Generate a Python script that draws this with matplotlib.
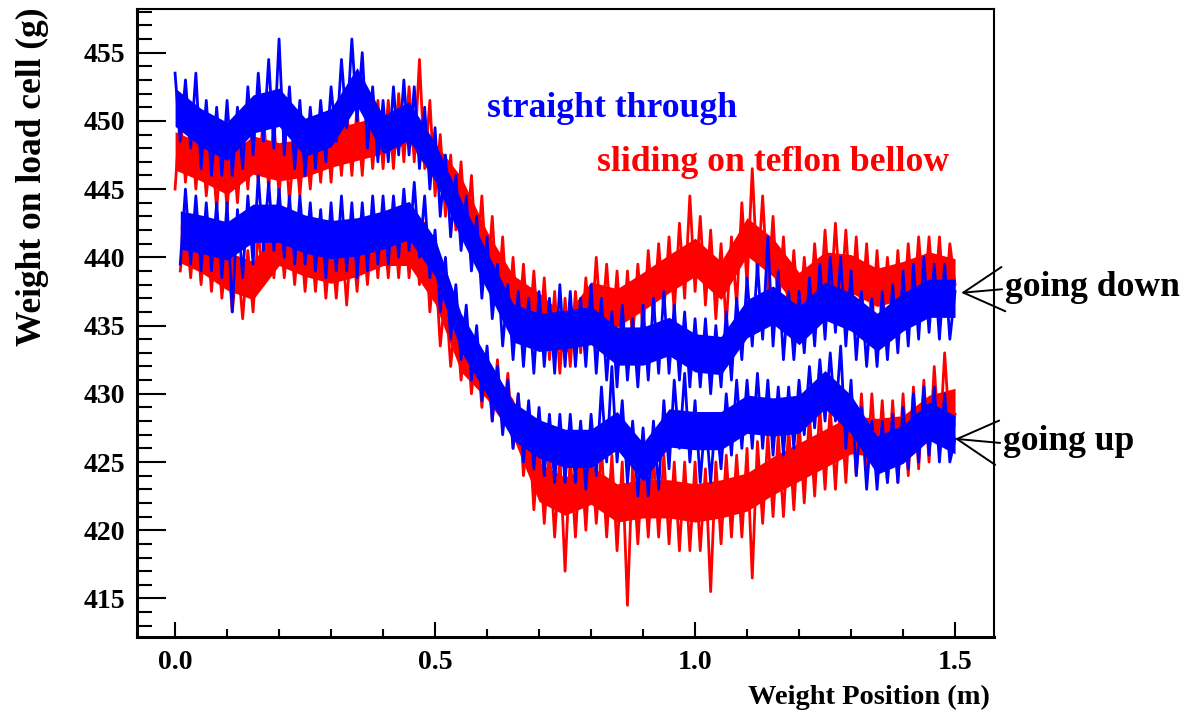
import numpy as np
import matplotlib
matplotlib.use("Agg")
import matplotlib.pyplot as plt
from matplotlib.ticker import MultipleLocator, FixedLocator

# ---------------- data ----------------
# positions (m) of the single readings: 0.00 .. 1.50 step 0.01
x_full = np.round(np.arange(151) * 0.01, 2)
x_late = x_full[1:]          # series that start at 0.01
# positions (m) of the dense-core readings: 0.00 .. 1.50 step 0.05
x_core = np.round(np.arange(31) * 0.05, 2)
x_core_late = np.concatenate([[0.01], x_core[1:]])

# blue, straight through, going down (0.00 .. 1.50)
blue_down = [453.5, 448.5, 453, 448, 453.5, 446.5, 451.5, 446, 451, 446,
             451.5, 446, 451, 446.5, 452.5, 447.5, 453.5, 448.5, 454.5, 448,
             456, 447.5, 452.5, 446.5, 451.5, 446, 451, 446.5, 451.5, 447,
             452.5, 448.5, 454.5, 449.5, 456, 450, 455, 448, 452.5, 447,
             451.5, 447, 452.5, 447.5, 453, 447.5, 452.5, 446.5, 451, 445,
             449.5, 443, 447.5, 441.5, 446, 440.5, 444.5, 439, 443, 437,
             441.5, 435.5, 439.5, 433.5, 438, 432.5, 437.5, 432, 437, 431.5,
             437.5, 432, 437, 431.5, 438, 432, 437.5, 432, 437, 432,
             438, 431.5, 437, 431, 436, 430.5, 436.5, 431, 435.5, 430.5,
             436.5, 431, 437, 431.5, 437.5, 431.5, 436.5, 431, 436, 430.5,
             435.5, 430.5, 435.5, 430, 435, 430.5, 436, 431, 437, 432.5,
             438.5, 433.5, 439.5, 434, 441.5, 433.5, 439, 432.5, 437.5, 432.5,
             437.5, 433, 438.5, 433.5, 439.5, 434, 440, 434.5, 440, 433.5,
             439, 432.5, 437.5, 432, 437, 432, 437.5, 432.5, 438, 433,
             439, 433.5, 439.5, 434, 440, 434.5, 439.5, 434, 439.5, 434,
             437.5]
blue_down_core_hi = [452.4, 450.9, 449.9, 451.9, 452.4, 450.2, 450.9, 453.9,
                     450.4, 451.4, 448.4, 444.2, 440.4, 436.6, 435.9, 436.1,
                     436.4, 434.9, 434.9, 435.6, 434.4, 434.2, 436.9, 437.9,
                     436.4, 438.2, 437.4, 435.9, 437.4, 438.4, 438.4]
blue_down_core_lo = [449.6, 448.1, 447.1, 449.1, 449.6, 447.4, 448.1, 451.1,
                     447.6, 448.6, 445.6, 441.4, 437.6, 433.8, 433.1, 433.3,
                     433.6, 432.1, 432.1, 432.8, 431.6, 431.4, 434.1, 435.1,
                     433.6, 435.4, 434.6, 433.1, 434.6, 435.6, 435.6]

# blue, straight through, going up (0.01 .. 1.50)
blue_up = [439.5, 445, 439.5, 444.5, 439, 444, 439, 444, 438.5, 444,
           436, 443.5, 438.5, 444.5, 439.5, 446, 440.5, 445.5, 440.5, 445,
           440, 444.5, 439.5, 444.5, 439.5, 444, 439, 443.5, 438.5, 444,
           439, 444.5, 439, 444, 438.5, 444, 439, 444.5, 439.5, 444.5,
           439.5, 444.5, 440, 445, 440.5, 445.5, 440, 444.5, 438.5, 442,
           436, 440, 434, 438, 432.5, 436.5, 431, 435, 429.5, 433.5,
           428, 432, 427, 431, 426, 430, 425, 429.5, 424.5, 429,
           424, 428.5, 423.5, 428.5, 423.5, 428.5, 423.5, 428, 423, 428.5,
           424, 430.5, 425, 432, 425, 429.5, 423.5, 428, 422.5, 427.5,
           422.5, 428, 423, 429.5, 424.5, 431, 426, 431.5, 425, 429.5,
           423.5, 428.5, 423.5, 428.5, 424.5, 430, 425.5, 431, 426, 431,
           426, 431.5, 426, 431, 425.5, 430.5, 425.5, 430.5, 426, 431,
           427, 432, 427.5, 432.5, 428, 433, 428, 433.5, 426, 431,
           424, 429, 423, 428, 423, 428, 423.5, 428.5, 423.5, 429,
           424.5, 430, 425, 430.5, 425.5, 430.5, 425, 430, 425, 426.7]
blue_up_core_hi = [443.4, 443.1, 442.6, 443.9, 443.9, 443.1, 442.7, 442.9,
                   443.4, 444.1, 441.4, 435.9, 432.7, 429.4, 428.1, 427.4,
                   427.4, 428.7, 426.4, 428.9, 428.7, 428.7, 429.9, 429.7,
                   429.9, 431.7, 429.9, 426.9, 427.7, 429.4, 428.4]
blue_up_core_lo = [440.6, 440.3, 439.8, 441.1, 441.1, 440.3, 439.9, 440.1,
                   440.6, 441.3, 438.6, 433.1, 429.9, 426.6, 425.3, 424.6,
                   424.6, 425.9, 423.6, 426.1, 425.9, 425.9, 427.1, 426.9,
                   427.1, 428.9, 427.1, 424.1, 424.9, 426.6, 425.6]

# red, sliding on teflon bellow, going down (0.00 .. 1.50)
red_down = [445, 450.5, 445.5, 450, 445, 449.5, 444.5, 448.5, 443.5, 448.5,
            443.5, 448.5, 444, 449, 445, 450, 445.5, 450.5, 445, 450,
            444.5, 449.5, 444, 449, 444.5, 449.5, 445, 450, 445.5, 450.5,
            445.5, 450.5, 446, 451, 446, 451, 446, 451.5, 446.5, 451.5,
            446.5, 451.5, 446.5, 452, 447, 452.5, 447, 454.5, 446.5, 451.5,
            444.5, 449, 443, 447.5, 442, 447, 441, 446, 439.5, 444.5,
            438, 443, 436.5, 441.5, 435, 440, 434.5, 439.5, 434, 439,
            433.5, 438.5, 432.5, 437.5, 431.5, 437, 432, 437.5, 433, 438.5,
            434, 440, 434.5, 439.5, 434, 439, 433.5, 439, 434, 439.5,
            434.5, 440.5, 435.5, 441, 436, 441.5, 436, 442.5, 437, 444.5,
            437.5, 443, 436.5, 442, 435.5, 441, 435, 441.5, 436.5, 444,
            438, 446.5, 438.5, 444.5, 437.5, 443, 436, 441.5, 435.5, 440.5,
            435, 440, 435.5, 441, 436, 442, 436.5, 442.5, 436.5, 442,
            436, 441.5, 435.5, 441, 435, 440.5, 435, 440, 435, 440.5,
            435.5, 441, 436, 441.5, 436.5, 441.5, 436.5, 441.5, 436, 441,
            438]
red_down_core_hi = [449.2, 448.4, 447.4, 448.9, 448.4, 448.7, 449.4, 449.9,
                    450.4, 451.2, 448.4, 445.9, 441.9, 438.7, 437.4, 435.7,
                    438.2, 437.7, 438.9, 440.2, 441.4, 439.7, 442.9, 441.4,
                    438.9, 440.4, 440.2, 439.2, 439.7, 440.4, 439.9]
red_down_core_lo = [446.4, 445.6, 444.6, 446.1, 445.6, 445.9, 446.6, 447.1,
                    447.6, 448.4, 445.6, 443.1, 439.1, 435.9, 434.6, 432.9,
                    435.4, 434.9, 436.1, 437.4, 438.6, 436.9, 440.1, 438.6,
                    436.1, 437.6, 437.4, 436.4, 436.9, 437.6, 437.1]

# red, sliding on teflon bellow, going up (0.01 .. 1.50)
red_up = [439, 443, 438.5, 443, 438, 442.5, 437.5, 442, 437, 441,
          436, 440, 435.5, 440.5, 436, 442, 438, 443, 438.5, 443,
          438.5, 442.5, 438, 442.5, 437.5, 442, 437.5, 442, 437, 441.5,
          437, 442, 436.5, 442, 437.5, 442.5, 438, 443, 438.5, 443,
          438.5, 443.5, 438.5, 443.5, 438.5, 443, 438, 442.5, 436, 440,
          433.5, 437.5, 432, 436, 431, 435, 430, 434, 429, 433,
          428, 432.5, 427.5, 431.5, 426, 430, 424, 428, 421.5, 426.5,
          420.5, 426, 419.5, 425.5, 417, 425.5, 419.5, 426, 420, 426.5,
          420.5, 426, 419.5, 425.5, 418.5, 425, 414.5, 425, 419, 425.5,
          419.5, 425.5, 419.5, 425.5, 419, 425, 418.5, 425, 418.5, 425,
          418.5, 424.5, 415.5, 425, 419, 425.5, 419.5, 425.5, 419.5, 426,
          416.5, 426.5, 420.5, 427, 421, 427, 421, 427.5, 421.5, 428,
          422, 428.5, 422.5, 429, 423, 429, 423, 429.5, 423.5, 430,
          424, 430, 424, 430, 424, 429.5, 423.5, 429.5, 423.5, 430,
          424, 430.5, 424.5, 431, 425, 432, 426, 433, 427, 428.5]
red_up_core_hi = [442.4, 441.7, 440.4, 439.7, 442.2, 441.4, 440.9, 441.4,
                  442.2, 442.2, 439.4, 434.4, 432.4, 429.6, 424.9, 423.9,
                  424.7, 423.4, 423.7, 423.7, 423.4, 423.7, 424.2, 425.4,
                  426.4, 427.4, 428.4, 428.2, 428.4, 429.9, 430.4]
red_up_core_lo = [439.6, 438.9, 437.6, 436.9, 439.4, 438.6, 438.1, 438.6,
                  439.4, 439.4, 436.6, 431.6, 429.6, 426.8, 422.1, 421.1,
                  421.9, 420.6, 420.9, 420.9, 420.6, 420.9, 421.4, 422.6,
                  423.6, 424.6, 425.6, 425.4, 425.6, 427.1, 427.6]

x_ticks = [0.0, 0.5, 1.0, 1.5]
x_tick_labels = ["0.0", "0.5", "1.0", "1.5"]
y_ticks = [415, 420, 425, 430, 435, 440, 445, 450, 455]

# ---------------- figure ----------------
plt.rcParams["font.family"] = ["Liberation Serif", "DejaVu Serif"]
plt.rcParams["font.weight"] = "bold"

fig = plt.figure(figsize=(11.86, 7.19), dpi=100)
ax = fig.add_axes([0.1153, 0.1145, 0.72285, 0.87302])

RED, BLUE = "#ff0000", "#0000ff"
lw = 2.0
series = [
    (x_full, red_down, x_core, red_down_core_lo, red_down_core_hi, RED),
    (x_late, red_up, x_core_late, red_up_core_lo, red_up_core_hi, RED),
    (x_full, blue_down, x_core, blue_down_core_lo, blue_down_core_hi, BLUE),
    (x_late, blue_up, x_core_late, blue_up_core_lo, blue_up_core_hi, BLUE),
]
z = 2
for xs, ys, xc, clo, chi, col in series:
    ax.fill_between(xc, clo, chi, color=col, lw=0, zorder=z)
    ax.plot(xs, ys, color=col, lw=lw, zorder=z + 0.5)
    z += 1

ax.set_xlim(-0.0737, 1.575)
ax.set_ylim(412.2, 458.2)

ax.xaxis.set_major_locator(FixedLocator(x_ticks))
ax.set_xticklabels(x_tick_labels)
ax.xaxis.set_minor_locator(FixedLocator(np.round(np.arange(0, 1.51, 0.1), 2)))
ax.yaxis.set_major_locator(FixedLocator(y_ticks))
ax.yaxis.set_minor_locator(MultipleLocator(1))

ax.tick_params(axis="y", which="major", direction="in", length=21, width=1.5,
               labelsize=20, pad=8.5)
ax.tick_params(axis="y", which="minor", direction="in", length=11, width=1.5)
ax.tick_params(axis="x", which="major", direction="in", length=11, width=1.5,
               labelsize=20, pad=9.5)
ax.tick_params(axis="x", which="minor", direction="in", length=5.5, width=1.5)
for lab in ax.get_xticklabels() + ax.get_yticklabels():
    lab.set_fontweight("bold")

for side in ["left", "bottom"]:
    ax.spines[side].set_linewidth(2.2)
for side in ["top", "right"]:
    ax.spines[side].set_linewidth(1.5)

ax.text(0.6, 450.9, "straight through", color=BLUE, fontsize=25.7,
        fontweight="bold", ha="left", va="center", zorder=10)
ax.text(0.8115, 446.95, "sliding on teflon bellow", color=RED,
        fontsize=25.7, fontweight="bold", ha="left", va="center", zorder=10)

arrow = dict(arrowstyle="->,head_length=1.45,head_width=0.8", color="black",
             lw=1.4, mutation_scale=20, shrinkA=0, shrinkB=0)
ax.annotate("going down", xy=(1.512, 437.4), xytext=(1.596, 437.8),
            fontsize=25.6, fontweight="bold", ha="left", va="center",
            arrowprops=dict(arrow, relpos=(0, 0.45)), annotation_clip=False)
ax.annotate("going up", xy=(1.5, 426.7), xytext=(1.592, 426.5),
            fontsize=25.6, fontweight="bold", ha="left", va="center",
            arrowprops=dict(arrow, relpos=(0, 0.45)), annotation_clip=False)

fig.text(0.027, 1 - 7 / 719, "Weight on load cell (g)", rotation=90,
         ha="center", va="top", fontsize=25.5, fontweight="bold")
fig.text(990 / 1186, 1 - 697 / 719, "Weight Position (m)", ha="right",
         va="center", fontsize=20.5, fontweight="bold")

fig.savefig("out.png", dpi=100)
